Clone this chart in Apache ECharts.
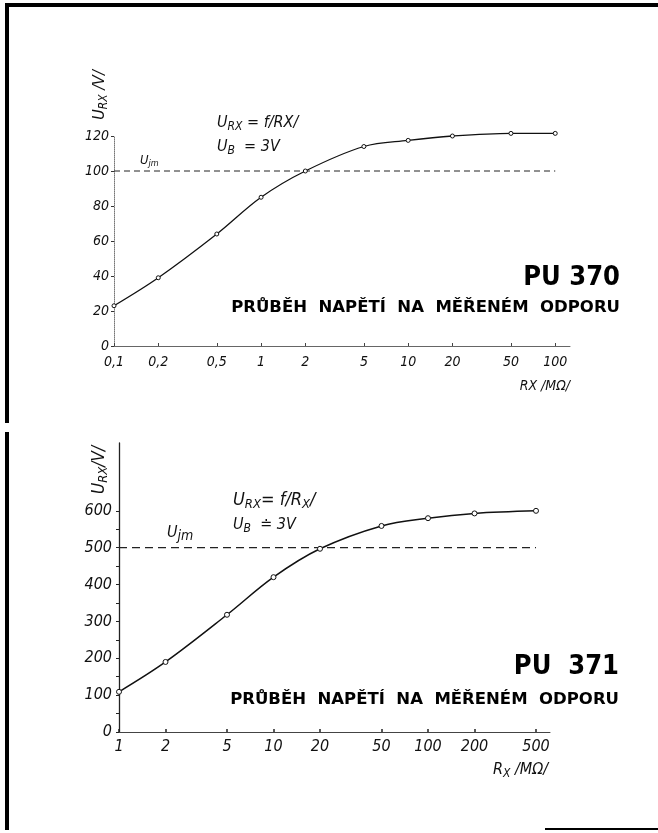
<!DOCTYPE html>
<html>
<head>
<meta charset="utf-8">
<script src="https://cdn.jsdelivr.net/npm/echarts@6/dist/echarts.min.js"></script>
<style>html,body{margin:0;padding:0;background:#fff}#c{width:658px;height:833px}</style>
</head>
<body>
<div id="c"></div>
<script>
// ---- data ----
const rx1 = [0.1, 0.2, 0.5, 1, 2, 5, 10, 20, 50, 100];
const u1 = [23, 39, 64, 85, 100, 114, 117.5, 120, 121.5, 121.5];
const rx2 = [1, 2, 5, 10, 20, 50, 100, 200, 500];
const u2 = [109, 190, 318, 420, 497, 559, 580, 593, 600];
const xTicks1 = [0.1, 0.2, 0.5, 1, 2, 5, 10, 20, 50, 100];
const xTicks2 = [1, 2, 5, 10, 20, 50, 100, 200, 500];
const yLabels1 = [0, 20, 40, 60, 80, 100, 120];
const yLabels2 = [0, 100, 200, 300, 400, 500, 600];
const yTicks2 = [0, 50, 100, 150, 200, 250, 300, 350, 400, 450, 500, 550, 600];
const ujm1 = 100;
const ujm2 = 500;

const ITAL = "'Liberation Sans Narrow','DejaVu Sans Condensed',sans-serif";
const fmtX = v => {
  const r = Math.round(v * 1000) / 1000;
  return String(r).replace('.', ',');
};

const chart = echarts.init(document.getElementById('c'), null, {renderer: 'canvas'});

function pairs(xs, ys) { return xs.map((x, i) => [x, ys[i]]); }

const option = {
  backgroundColor: '#fff',
  animation: false,
  grid: [
    {left: 114, right: 88, top: 136, height: 210},
    {left: 119, right: 108, top: 443, height: 289}
  ],
  xAxis: [
    {
      gridIndex: 0, type: 'log', logBase: 10, min: 0.1, max: 126,
      axisLine: {lineStyle: {color: '#666', width: 1}},
      axisTick: {show: true, length: 3, inside: true, customValues: xTicks1, lineStyle: {color: '#444'}},
      axisLabel: {customValues: xTicks1, formatter: fmtX, fontFamily: ITAL, fontStyle: 'italic', fontSize: 14, color: '#111', margin: 9},
      splitLine: {show: false}, minorTick: {show: false}
    },
    {
      gridIndex: 1, type: 'log', logBase: 10, min: 1, max: 616,
      axisLine: {lineStyle: {color: '#444', width: 1}},
      axisTick: {show: true, length: 3, inside: true, customValues: xTicks2, lineStyle: {color: '#222', width: 1.5}},
      axisLabel: {customValues: xTicks2, formatter: fmtX, fontFamily: ITAL, fontStyle: 'italic', fontSize: 16, color: '#111', margin: 7},
      splitLine: {show: false}, minorTick: {show: false}
    }
  ],
  yAxis: [
    {
      gridIndex: 0, type: 'value', min: 0, max: 120,
      axisLine: {show: true, lineStyle: {color: '#777', width: 1, type: 'dotted'}},
      axisTick: {show: true, length: 3, customValues: yLabels1, lineStyle: {color: '#333'}},
      axisLabel: {customValues: yLabels1, fontFamily: ITAL, fontStyle: 'italic', fontSize: 14, color: '#111', margin: 5},
      splitLine: {show: false}
    },
    {
      gridIndex: 1, type: 'value', min: 0, max: 784,
      axisLine: {show: true, lineStyle: {color: '#222', width: 1.3}},
      axisTick: {show: true, length: 3, customValues: yTicks2, lineStyle: {color: '#222'}},
      axisLabel: {customValues: yLabels2, fontFamily: ITAL, fontStyle: 'italic', fontSize: 16, color: '#111', margin: 7},
      splitLine: {show: false}
    }
  ],
  series: [
    {
      type: 'line', xAxisIndex: 0, yAxisIndex: 0, data: [[rx1[0], ujm1], [rx1[rx1.length - 1], ujm1]],
      symbol: 'none', lineStyle: {color: '#222', width: 1, type: [6, 4]}, z: 1
    },
    {
      type: 'line', xAxisIndex: 0, yAxisIndex: 0, data: pairs(rx1, u1), smooth: 0.35, clip: false,
      symbol: 'circle', symbolSize: 4, showAllSymbol: true,
      itemStyle: {color: '#fff', borderColor: '#111', borderWidth: 1},
      lineStyle: {color: '#111', width: 1.3}, z: 3
    },
    {
      type: 'line', xAxisIndex: 1, yAxisIndex: 1, data: [[rx2[0], ujm2], [rx2[rx2.length - 1], ujm2]],
      symbol: 'none', lineStyle: {color: '#222', width: 1.2, type: [8, 5]}, z: 1
    },
    {
      type: 'line', xAxisIndex: 1, yAxisIndex: 1, data: pairs(rx2, u2), smooth: 0.35, clip: false,
      symbol: 'circle', symbolSize: 5, showAllSymbol: true,
      itemStyle: {color: '#fff', borderColor: '#111', borderWidth: 1},
      lineStyle: {color: '#111', width: 1.5}, z: 3
    }
  ],
  graphic: [
    // frame
    {type: 'rect', shape: {x: 6, y: 3, width: 652, height: 4}, style: {fill: '#000'}},
    {type: 'rect', shape: {x: 5, y: 3, width: 4, height: 420}, style: {fill: '#000'}},
    {type: 'rect', shape: {x: 5, y: 432, width: 4, height: 398}, style: {fill: '#000'}},
    {type: 'rect', shape: {x: 545, y: 828, width: 113, height: 2}, style: {fill: '#000'}},
    // top chart texts
    {type: 'text', x: 100, y: 95, rotation: Math.PI / 2,
      style: {text: '{u|U}{s|RX}{u| /V/}', textAlign: 'center', textVerticalAlign: 'middle',
        rich: {u: {fontFamily: ITAL, fontStyle: 'italic', fontSize: 16, fill: '#111'},
               s: {fontFamily: ITAL, fontStyle: 'italic', fontSize: 12, fill: '#111', padding: [8, 0, 0, 0]}}}},
    {type: 'text', x: 217, y: 123,
      style: {text: '{u|U}{s|RX}{u| = f/RX/}', textVerticalAlign: 'middle',
        rich: {u: {fontFamily: ITAL, fontStyle: 'italic', fontSize: 16, fill: '#111'},
               s: {fontFamily: ITAL, fontStyle: 'italic', fontSize: 12, fill: '#111', padding: [8, 0, 0, 0]}}}},
    {type: 'text', x: 217, y: 147,
      style: {text: '{u|U}{s|B}{u|  = 3V}', textVerticalAlign: 'middle',
        rich: {u: {fontFamily: ITAL, fontStyle: 'italic', fontSize: 16, fill: '#111'},
               s: {fontFamily: ITAL, fontStyle: 'italic', fontSize: 12, fill: '#111', padding: [8, 0, 0, 0]}}}},
    {type: 'text', x: 140, y: 161,
      style: {text: '{u|U}{s|jm}', textVerticalAlign: 'middle',
        rich: {u: {fontFamily: ITAL, fontStyle: 'italic', fontSize: 13, fill: '#111'},
               s: {fontFamily: ITAL, fontStyle: 'italic', fontSize: 9, fill: '#111', padding: [6, 0, 0, 0]}}}},
    {type: 'text', x: 620, y: 278,
      style: {text: 'PU 370', textAlign: 'right', textVerticalAlign: 'middle',
        fontFamily: ITAL, fontWeight: 'bold', fontSize: 27, fill: '#000'}},
    {type: 'text', x: 620, y: 308,
      style: {text: 'PRŮBĚH  NAPĚTÍ  NA  MĚŘENÉM  ODPORU', textAlign: 'right', textVerticalAlign: 'middle',
        fontFamily: "'DejaVu Sans',sans-serif", fontWeight: 'bold', fontSize: 16.5, fill: '#000'}},
    {type: 'text', x: 570, y: 386,
      style: {text: 'RX /MΩ/', textAlign: 'right', textVerticalAlign: 'middle',
        fontFamily: ITAL, fontStyle: 'italic', fontSize: 14, fill: '#111'}},
    // bottom chart texts
    {type: 'text', x: 100, y: 470, rotation: Math.PI / 2,
      style: {text: '{u|U}{s|RX}{u|/V/}', textAlign: 'center', textVerticalAlign: 'middle',
        rich: {u: {fontFamily: ITAL, fontStyle: 'italic', fontSize: 17, fill: '#111'},
               s: {fontFamily: ITAL, fontStyle: 'italic', fontSize: 13, fill: '#111', padding: [8, 0, 0, 0]}}}},
    {type: 'text', x: 233, y: 500,
      style: {text: '{u|U}{s|RX}{u|= f/R}{s|X}{u|/}', textVerticalAlign: 'middle',
        rich: {u: {fontFamily: ITAL, fontStyle: 'italic', fontSize: 18, fill: '#111'},
               s: {fontFamily: ITAL, fontStyle: 'italic', fontSize: 13, fill: '#111', padding: [9, 0, 0, 0]}}}},
    {type: 'text', x: 233, y: 525,
      style: {text: '{u|U}{s|B}{u|  ≐ 3V}', textVerticalAlign: 'middle',
        rich: {u: {fontFamily: ITAL, fontStyle: 'italic', fontSize: 16, fill: '#111'},
               s: {fontFamily: ITAL, fontStyle: 'italic', fontSize: 12, fill: '#111', padding: [8, 0, 0, 0]}}}},
    {type: 'text', x: 167, y: 533,
      style: {text: '{u|U}{s|jm}', textVerticalAlign: 'middle',
        rich: {u: {fontFamily: ITAL, fontStyle: 'italic', fontSize: 16, fill: '#111'},
               s: {fontFamily: ITAL, fontStyle: 'italic', fontSize: 14, fill: '#111', padding: [6, 0, 0, 0]}}}},
    {type: 'text', x: 619, y: 667,
      style: {text: 'PU  371', textAlign: 'right', textVerticalAlign: 'middle',
        fontFamily: ITAL, fontWeight: 'bold', fontSize: 27, fill: '#000'}},
    {type: 'text', x: 619, y: 700,
      style: {text: 'PRŮBĚH  NAPĚTÍ  NA  MĚŘENÉM  ODPORU', textAlign: 'right', textVerticalAlign: 'middle',
        fontFamily: "'DejaVu Sans',sans-serif", fontWeight: 'bold', fontSize: 16.5, fill: '#000'}},
    {type: 'text', x: 548, y: 770,
      style: {text: '{u|R}{s|X}{u| /MΩ/}', textAlign: 'right', textVerticalAlign: 'middle',
        rich: {u: {fontFamily: ITAL, fontStyle: 'italic', fontSize: 16, fill: '#111'},
               s: {fontFamily: ITAL, fontStyle: 'italic', fontSize: 12, fill: '#111', padding: [8, 0, 0, 0]}}}}
  ]
};
chart.setOption(option);
</script>
</body>
</html>
